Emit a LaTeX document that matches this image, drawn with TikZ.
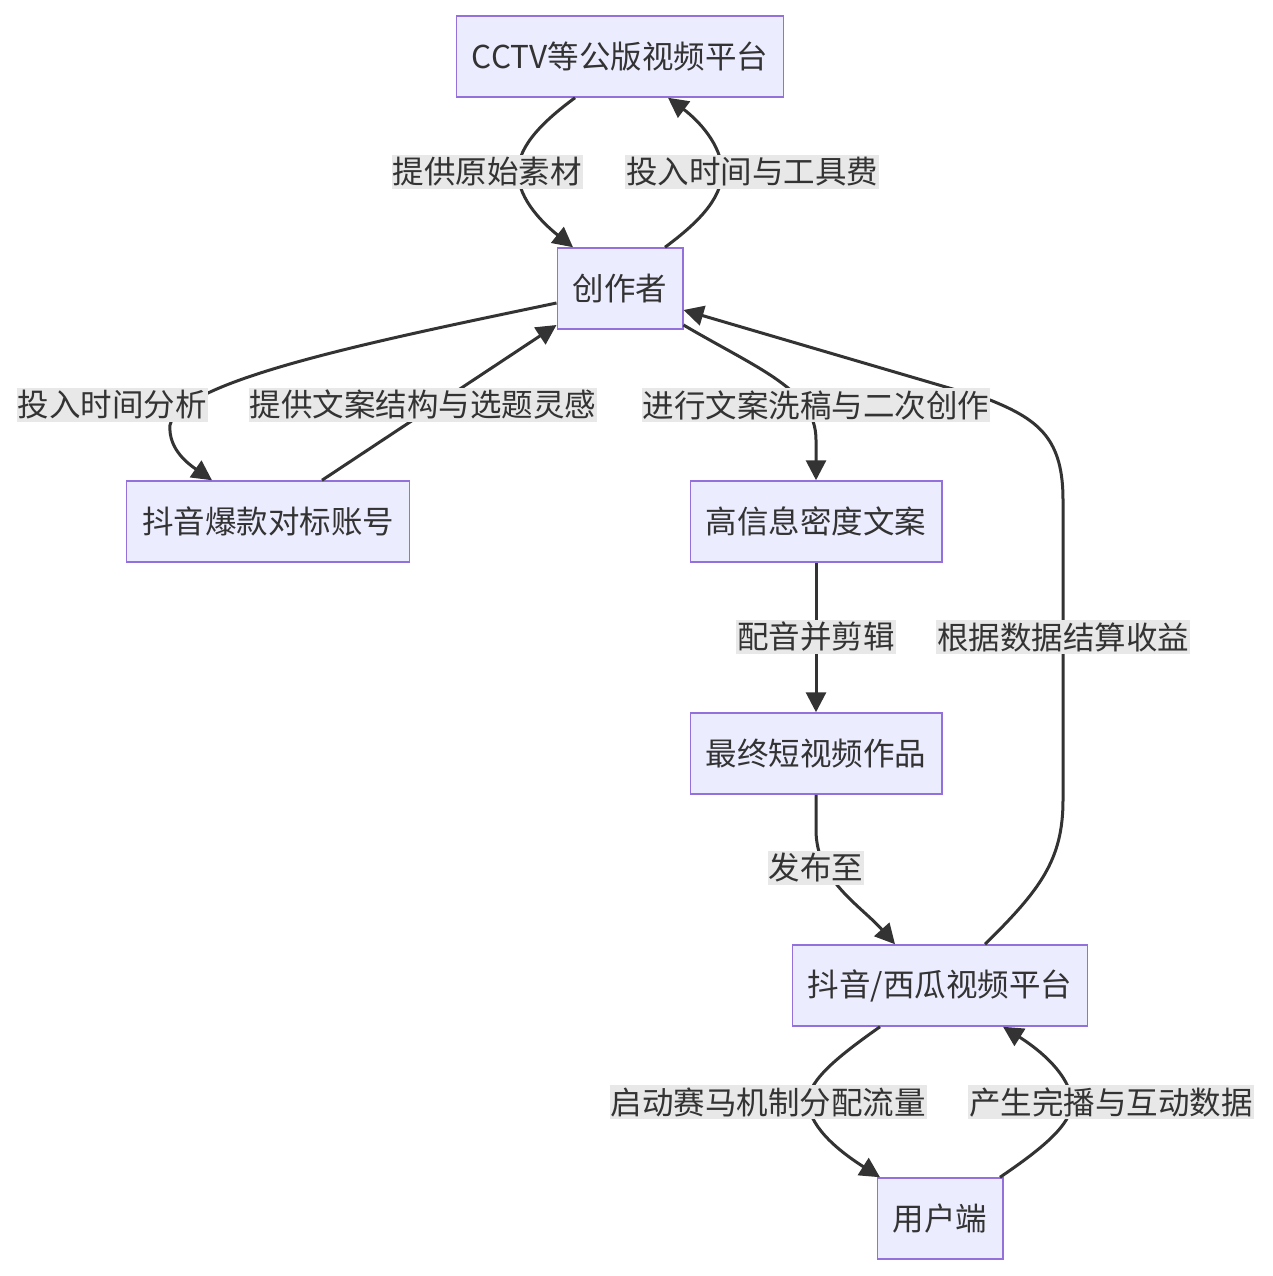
\documentclass[tikz,border=0pt]{standalone}
\usepackage{fontspec}
\setmainfont{Noto Sans CJK SC}
\usepackage{xcolor}
\definecolor{NodeFill}{HTML}{ECECFF}
\definecolor{NodeLine}{HTML}{9370DB}
\definecolor{Ink}{HTML}{333333}
\definecolor{LabelBg}{HTML}{E8E8E8}
\usetikzlibrary{arrows.meta, positioning}

\begin{document}
\begin{tikzpicture}[x=1pt, y=-1pt, >={Triangle[length=20pt,width=20pt]},
  box/.style={rectangle, draw=NodeLine, fill=NodeFill, line width=1.5pt,
              minimum height=81pt, inner xsep=15.5pt, text=Ink,
              font=\fontsize{31.5}{36}\selectfont},
  arr/.style={->, line width=3pt, draw=Ink},
  lbl/.style={fill=LabelBg, text=Ink, inner xsep=1pt, inner ysep=2pt,
              font=\fontsize{31.5}{36}\selectfont}
]
\useasboundingbox (0,0) rectangle (1272,1276);

%% ---- Nodes ----
\node[box] (cctv)     at (620, 56.5)   {CCTV等公版视频平台};
\node[box] (creator)  at (620, 288.5)  {创作者};
\node[box] (bench)    at (268, 521.5)  {抖音爆款对标账号};
\node[box] (copy)     at (816, 521.5)  {高信息密度文案};
\node[box] (final)    at (816, 753.5)  {最终短视频作品};
\node[box] (platform) at (940, 985.5)  {抖音/西瓜视频平台};
\node[box] (users)    at (940, 1218.5) {用户端};

%% ---- Material loop ----
\draw[arr] ([xshift=-45pt]cctv.south) .. controls (545,120) and (518,145) .. (518,172)
  .. controls (518,200) and (545,225) .. ([xshift=-47pt]creator.north);
\draw[arr] ([xshift=45pt]creator.north) .. controls (695,225) and (722,200) .. (722,172)
  .. controls (722,145) and (698,120) .. ([xshift=48pt]cctv.south);

%% ---- Benchmark loop ----
\draw[arr] ([yshift=-14.5pt]creator.west) .. controls (380,340) and (180,380) .. (170,425)
  .. controls (168,450) and (190,465) .. ([xshift=-56pt]bench.north);
\draw[arr] ([xshift=54pt]bench.north) -- ([yshift=-36.5pt]creator.west);

%% ---- Production chain ----
\draw[arr] ([yshift=-36.5pt]creator.east) .. controls (760,370) and (816,390) .. (816,440)
  -- (copy.north);
\draw[arr] (copy) -- (final);
\draw[arr] (final.south) -- (816,830) .. controls (816,880) and (860,905)
  .. ([xshift=-45pt]platform.north);

%% ---- Revenue back to creator ----
\draw[arr] ([xshift=45pt]platform.north) .. controls (1040,890) and (1063,860) .. (1063,800)
  -- (1063,500) .. controls (1063,440) and (1040,420) .. (990,400)
  -- ([yshift=-21.5pt]creator.east);

%% ---- Traffic loop ----
\draw[arr] ([xshift=-60pt]platform.south) .. controls (840,1055) and (808,1080) .. (808,1102)
  .. controls (810,1130) and (845,1155) .. ([xshift=-60pt]users.north);
\draw[arr] ([xshift=60pt]users.south |- users.north) .. controls (1040,1150) and (1072,1125) .. (1072,1102)
  .. controls (1070,1075) and (1040,1050) .. ([xshift=63pt]platform.south);

%% ---- Edge labels ----
\node[lbl] (lsrc)   at (487, 172)  {提供原始素材};
\node[lbl] (lcost)  at (752, 172)  {投入时间与工具费};
\node[lbl] (lstudy) at (112, 405)  {投入时间分析};
\node[lbl] (lidea)  at (423, 405)  {提供文案结构与选题灵感};
\node[lbl] (lwash)  at (816, 405)  {进行文案洗稿与二次创作};
\node[lbl] (ledit)  at (816, 637)  {配音并剪辑};
\node[lbl] (lpub)   at (816, 868)  {发布至};
\node[lbl] (lpay)   at (1063, 637) {根据数据结算收益};
\node[lbl] (lflow)  at (768, 1102) {启动赛马机制分配流量};
\node[lbl] (ldata)  at (1111, 1102){产生完播与互动数据};

\end{tikzpicture}
\end{document}
